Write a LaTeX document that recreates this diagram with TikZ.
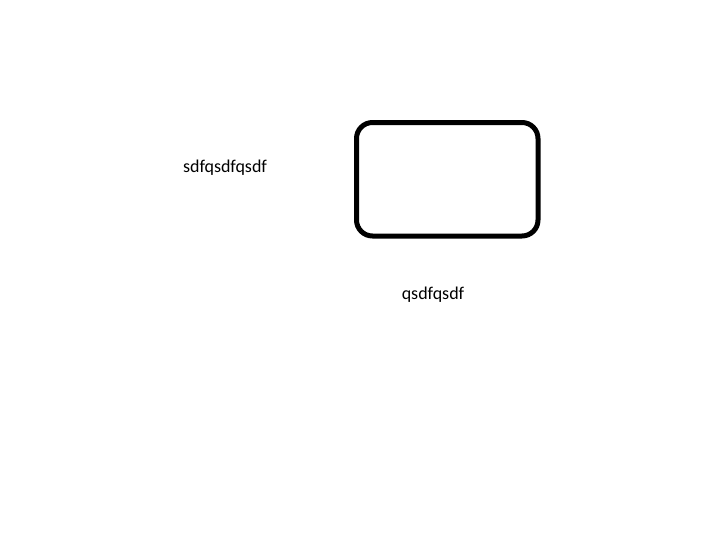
\documentclass[tikz,border=0pt]{standalone}
\usepackage{fontspec}
\setmainfont{Carlito}
\usepackage{tikz}
\begin{document}
\begin{tikzpicture}[x=1pt, y=-1pt]
		\useasboundingbox (0,0) rectangle (725,549);
		\tikzset{txt/.style={inner sep=0pt, font=\fontsize{18}{21}\selectfont}}
		
		\draw[line width=5pt, rounded corners=16pt] (356.5,122.5) rectangle (538,236);
		
		\draw (225,168) node[txt] (lbla) {sdfqsdfqsdf};
		\draw (433,295) node[txt] (lblb) {qsdfqsdf};
	\end{tikzpicture}
\end{document}
